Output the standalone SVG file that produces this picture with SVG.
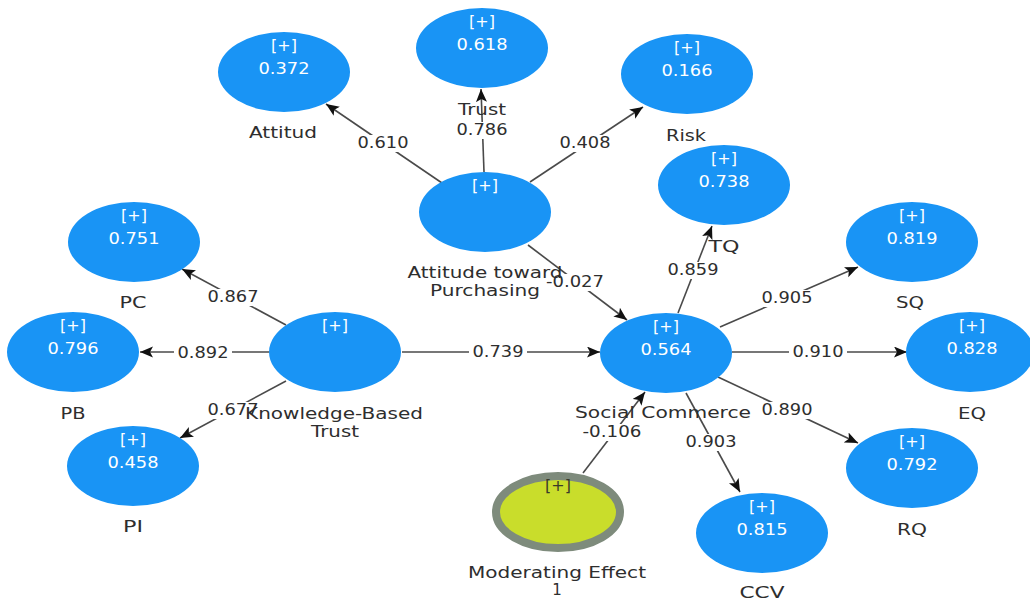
<svg xmlns="http://www.w3.org/2000/svg" width="1030" height="602" viewBox="0 0 1030 602">
<defs>
<style>
.n{fill:#1994F5}
.t{font-family:"DejaVu Sans",sans-serif;font-size:16px;fill:#ffffff;text-anchor:middle}
.l{font-family:"DejaVu Sans",sans-serif;font-size:15px;fill:#2e2e2e;text-anchor:middle}
.c{font-family:"DejaVu Sans",sans-serif;font-size:15px;fill:#2e2e2e;text-anchor:middle}
.bg{fill:#ffffff}
.e{stroke:#4a4a4a;stroke-width:1.6;fill:none;marker-end:url(#ah)}
</style>
<marker id="ah" markerUnits="userSpaceOnUse" markerWidth="14" markerHeight="12" refX="13" refY="5.5" orient="auto">
<path d="M0,0 L13,5.5 L0,11 L3,5.5 z" fill="#111"/>
</marker>
</defs>
<rect width="1030" height="602" fill="#ffffff"/>
<g id="connectors">
<line class="e" x1="442" y1="183" x2="326" y2="104"/>
<line class="e" x1="484" y1="172" x2="481" y2="89"/>
<line class="e" x1="530" y1="182" x2="643" y2="107"/>
<line class="e" x1="528" y1="245" x2="627" y2="320"/>
<line class="e" x1="286" y1="325" x2="182" y2="269"/>
<line class="e" x1="269" y1="352" x2="140" y2="352"/>
<line class="e" x1="286" y1="381" x2="180" y2="438"/>
<line class="e" x1="402" y1="352" x2="600" y2="352"/>
<line class="e" x1="583" y1="473" x2="645" y2="392"/>
<line class="e" x1="678" y1="313" x2="712" y2="226"/>
<line class="e" x1="720" y1="327" x2="858" y2="267"/>
<line class="e" x1="732" y1="352" x2="907" y2="352"/>
<line class="e" x1="718" y1="377" x2="858" y2="443"/>
<line class="e" x1="686" y1="393" x2="740" y2="492"/>
<g id="coefficient-backgrounds">
<rect class="bg" x="354" y="135" width="58" height="17"/>
<rect class="bg" x="453" y="122" width="58" height="17"/>
<rect class="bg" x="556" y="135" width="58" height="17"/>
<rect class="bg" x="543" y="274" width="64" height="17"/>
<rect class="bg" x="204" y="289" width="58" height="17"/>
<rect class="bg" x="174" y="345" width="58" height="17"/>
<rect class="bg" x="204" y="402" width="58" height="17"/>
<rect class="bg" x="469" y="344" width="58" height="17"/>
<rect class="bg" x="580" y="424" width="65" height="17"/>
<rect class="bg" x="664" y="262" width="58" height="17"/>
<rect class="bg" x="758" y="290" width="58" height="17"/>
<rect class="bg" x="789" y="344" width="58" height="17"/>
<rect class="bg" x="758" y="402" width="58" height="17"/>
<rect class="bg" x="682" y="434" width="58" height="17"/>
</g>
<g id="coefficients">
<text class="c" x="383" y="148" textLength="51" lengthAdjust="spacingAndGlyphs">0.610</text>
<text class="c" x="482" y="135" textLength="51" lengthAdjust="spacingAndGlyphs">0.786</text>
<text class="c" x="585" y="148" textLength="51" lengthAdjust="spacingAndGlyphs">0.408</text>
<text class="c" x="575" y="287" textLength="58" lengthAdjust="spacingAndGlyphs">-0.027</text>
<text class="c" x="233" y="302" textLength="51" lengthAdjust="spacingAndGlyphs">0.867</text>
<text class="c" x="203" y="358" textLength="51" lengthAdjust="spacingAndGlyphs">0.892</text>
<text class="c" x="233" y="415" textLength="51" lengthAdjust="spacingAndGlyphs">0.677</text>
<text class="c" x="498" y="357" textLength="51" lengthAdjust="spacingAndGlyphs">0.739</text>
<text class="c" x="612" y="437" textLength="59" lengthAdjust="spacingAndGlyphs">-0.106</text>
<text class="c" x="693" y="275" textLength="51" lengthAdjust="spacingAndGlyphs">0.859</text>
<text class="c" x="787" y="303" textLength="51" lengthAdjust="spacingAndGlyphs">0.905</text>
<text class="c" x="818" y="357" textLength="51" lengthAdjust="spacingAndGlyphs">0.910</text>
<text class="c" x="787" y="415" textLength="51" lengthAdjust="spacingAndGlyphs">0.890</text>
<text class="c" x="711" y="447" textLength="51" lengthAdjust="spacingAndGlyphs">0.903</text>
</g>
</g>
<g id="node-attitud">
<ellipse class="n" cx="284" cy="72" rx="66" ry="40"/>
<text class="t" x="284" y="51">[+]</text>
<text class="t" x="284" y="74" textLength="51" lengthAdjust="spacingAndGlyphs">0.372</text>
<text class="l" x="283" y="138" textLength="68" lengthAdjust="spacingAndGlyphs">Attitud</text>
</g>
<g id="node-trust">
<ellipse class="n" cx="482" cy="48" rx="66" ry="40"/>
<text class="t" x="482" y="27">[+]</text>
<text class="t" x="482" y="50" textLength="51" lengthAdjust="spacingAndGlyphs">0.618</text>
<text class="l" x="482" y="115" textLength="48" lengthAdjust="spacingAndGlyphs">Trust</text>
</g>
<g id="node-risk">
<ellipse class="n" cx="687" cy="74" rx="66" ry="40"/>
<text class="t" x="687" y="53">[+]</text>
<text class="t" x="687" y="76" textLength="51" lengthAdjust="spacingAndGlyphs">0.166</text>
<text class="l" x="686" y="141" textLength="40" lengthAdjust="spacingAndGlyphs">Risk</text>
</g>
<g id="node-attitude-toward-purchasing">
<ellipse class="n" cx="485" cy="212" rx="66" ry="40"/>
<text class="t" x="485" y="191">[+]</text>
<text class="l" x="485" y="278" textLength="155" lengthAdjust="spacingAndGlyphs">Attitude toward</text>
<text class="l" x="485" y="296" textLength="110" lengthAdjust="spacingAndGlyphs">Purchasing</text>
</g>
<g id="node-tq">
<ellipse class="n" cx="724" cy="185" rx="66" ry="40"/>
<text class="t" x="724" y="164">[+]</text>
<text class="t" x="724" y="187" textLength="51" lengthAdjust="spacingAndGlyphs">0.738</text>
<text class="l" x="724" y="252" textLength="31" lengthAdjust="spacingAndGlyphs">TQ</text>
</g>
<g id="node-sq">
<ellipse class="n" cx="912" cy="242" rx="66" ry="40"/>
<text class="t" x="912" y="221">[+]</text>
<text class="t" x="912" y="244" textLength="51" lengthAdjust="spacingAndGlyphs">0.819</text>
<text class="l" x="910" y="308" textLength="28" lengthAdjust="spacingAndGlyphs">SQ</text>
</g>
<g id="node-eq">
<ellipse class="n" cx="970" cy="352" rx="64" ry="40"/>
<text class="t" x="972" y="331">[+]</text>
<text class="t" x="972" y="354" textLength="51" lengthAdjust="spacingAndGlyphs">0.828</text>
<text class="l" x="972" y="419" textLength="28" lengthAdjust="spacingAndGlyphs">EQ</text>
</g>
<g id="node-rq">
<ellipse class="n" cx="912" cy="468" rx="66" ry="40"/>
<text class="t" x="912" y="447">[+]</text>
<text class="t" x="912" y="470" textLength="51" lengthAdjust="spacingAndGlyphs">0.792</text>
<text class="l" x="912" y="535" textLength="30" lengthAdjust="spacingAndGlyphs">RQ</text>
</g>
<g id="node-ccv">
<ellipse class="n" cx="762" cy="533" rx="66" ry="40"/>
<text class="t" x="762" y="512">[+]</text>
<text class="t" x="762" y="535" textLength="51" lengthAdjust="spacingAndGlyphs">0.815</text>
<text class="l" x="762" y="598" textLength="45" lengthAdjust="spacingAndGlyphs">CCV</text>
</g>
<g id="node-social-commerce">
<ellipse class="n" cx="666" cy="353" rx="66" ry="40"/>
<text class="t" x="666" y="332">[+]</text>
<text class="t" x="666" y="355" textLength="51" lengthAdjust="spacingAndGlyphs">0.564</text>
<text class="l" x="663" y="418" textLength="176" lengthAdjust="spacingAndGlyphs">Social Commerce</text>
</g>
<g id="node-moderating-effect">
<ellipse cx="558" cy="512" rx="62" ry="36" fill="#C9DD2B" stroke="#7E8B7C" stroke-width="8"/>
<text class="t" x="558" y="491" style="fill:#3a3a2a">[+]</text>
<text class="l" x="557" y="578" textLength="178" lengthAdjust="spacingAndGlyphs">Moderating Effect</text>
<text class="l" x="557" y="595">1</text>
</g>
<g id="node-knowledge-based-trust">
<ellipse class="n" cx="335" cy="352" rx="66" ry="40"/>
<text class="t" x="335" y="331">[+]</text>
<text class="l" x="334" y="419" textLength="178" lengthAdjust="spacingAndGlyphs">Knowledge-Based</text>
<text class="l" x="335" y="437" textLength="48" lengthAdjust="spacingAndGlyphs">Trust</text>
</g>
<g id="node-pc">
<ellipse class="n" cx="134" cy="242" rx="66" ry="40"/>
<text class="t" x="134" y="221">[+]</text>
<text class="t" x="134" y="244" textLength="51" lengthAdjust="spacingAndGlyphs">0.751</text>
<text class="l" x="133" y="308" textLength="27" lengthAdjust="spacingAndGlyphs">PC</text>
</g>
<g id="node-pb">
<ellipse class="n" cx="73" cy="352" rx="66" ry="40"/>
<text class="t" x="73" y="331">[+]</text>
<text class="t" x="73" y="354" textLength="51" lengthAdjust="spacingAndGlyphs">0.796</text>
<text class="l" x="73" y="419" textLength="25" lengthAdjust="spacingAndGlyphs">PB</text>
</g>
<g id="node-pi">
<ellipse class="n" cx="133" cy="466" rx="66" ry="40"/>
<text class="t" x="133" y="445">[+]</text>
<text class="t" x="133" y="468" textLength="51" lengthAdjust="spacingAndGlyphs">0.458</text>
<text class="l" x="133" y="532" textLength="20" lengthAdjust="spacingAndGlyphs">PI</text>
</g>
</svg>
